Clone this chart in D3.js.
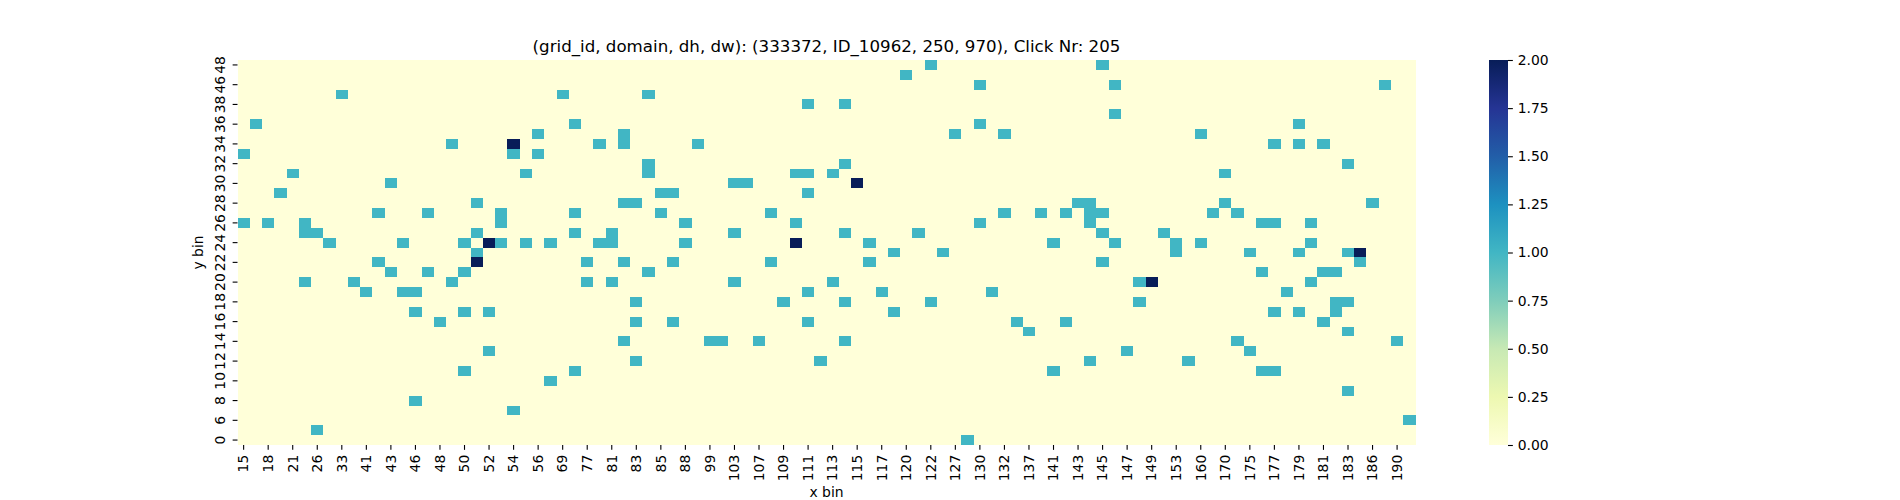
<!DOCTYPE html>
<html>
  <head>
    <title>Click heatmap</title>
    <script src="https://d3js.org/d3.v7.min.js"></script>
    <style>
      body { margin: 0; background: #ffffff; }
      text { font-family: "DejaVu Sans", sans-serif; fill: #000000; }
    </style>
  </head>
  <body>
    <svg id="chart" width="1900" height="500"></svg>
    <script>
      const title = "(grid_id, domain, dh, dw): (333372, ID_10962, 250, 970), Click Nr: 205";

      // x bin categories (left to right), only every 2nd one is labelled
      const xBins = [15, 16, 18, 20, 21, 24, 26, 30, 33, 39, 41, 42, 43, 45, 46, 47, 48, 49, 50, 51,
        52, 53, 54, 55, 56, 60, 69, 74, 77, 79, 81, 82, 83, 84, 85, 86, 88, 95, 99, 101,
        103, 105, 107, 108, 109, 110, 111, 112, 113, 114, 115, 116, 117, 119, 120, 121, 122, 125, 127, 128,
        130, 131, 132, 135, 137, 139, 141, 142, 143, 144, 145, 146, 147, 148, 149, 151, 153, 157, 160, 165,
        170, 172, 175, 176, 177, 178, 179, 180, 181, 182, 183, 185, 186, 188, 190, 192];

      // y bin categories (top to bottom)
      const yBins = [48, 47, 46, 42, 38, 37, 36, 35, 34, 33, 32, 31, 30, 29, 28, 27, 26, 25, 24, 23,
        22, 21, 20, 19, 18, 17, 16, 15, 14, 13, 12, 11, 10, 9, 8, 7, 6, 3, 0];

      // non-zero cells: [x bin, y bin, clicks]
      const cells = [
        [122, 48, 1], [145, 48, 1],
        [120, 47, 1],
        [130, 46, 1], [146, 46, 1], [188, 46, 1],
        [33, 42, 1], [69, 42, 1], [84, 42, 1],
        [111, 38, 1], [114, 38, 1],
        [146, 37, 1],
        [16, 36, 1], [74, 36, 1], [130, 36, 1], [179, 36, 1],
        [56, 35, 1], [82, 35, 1], [127, 35, 1], [132, 35, 1], [160, 35, 1],
        [49, 34, 1], [54, 34, 2], [79, 34, 1], [82, 34, 1], [95, 34, 1], [177, 34, 1], [179, 34, 1], [181, 34, 1],
        [15, 33, 1], [54, 33, 1], [56, 33, 1],
        [84, 32, 1], [114, 32, 1], [183, 32, 1],
        [21, 31, 1], [55, 31, 1], [84, 31, 1], [110, 31, 1], [111, 31, 1], [113, 31, 1], [170, 31, 1],
        [43, 30, 1], [103, 30, 1], [105, 30, 1], [115, 30, 2],
        [20, 29, 1], [85, 29, 1], [86, 29, 1], [111, 29, 1],
        [51, 28, 1], [82, 28, 1], [83, 28, 1], [143, 28, 1], [144, 28, 1], [170, 28, 1], [186, 28, 1],
        [42, 27, 1], [47, 27, 1], [53, 27, 1], [74, 27, 1], [85, 27, 1], [108, 27, 1], [132, 27, 1],
        [139, 27, 1], [142, 27, 1], [144, 27, 1], [145, 27, 1], [165, 27, 1], [172, 27, 1],
        [15, 26, 1], [18, 26, 1], [24, 26, 1], [53, 26, 1], [88, 26, 1], [110, 26, 1], [130, 26, 1],
        [144, 26, 1], [176, 26, 1], [177, 26, 1], [180, 26, 1],
        [24, 25, 1], [26, 25, 1], [51, 25, 1], [74, 25, 1], [81, 25, 1], [103, 25, 1], [114, 25, 1],
        [121, 25, 1], [145, 25, 1], [151, 25, 1],
        [30, 24, 1], [45, 24, 1], [50, 24, 1], [52, 24, 2], [53, 24, 1], [55, 24, 1], [60, 24, 1],
        [79, 24, 1], [81, 24, 1], [88, 24, 1], [110, 24, 2], [116, 24, 1], [141, 24, 1], [146, 24, 1],
        [153, 24, 1], [160, 24, 1], [180, 24, 1],
        [51, 23, 1], [119, 23, 1], [125, 23, 1], [153, 23, 1], [175, 23, 1], [179, 23, 1], [183, 23, 1], [185, 23, 2],
        [42, 22, 1], [51, 22, 2], [77, 22, 1], [82, 22, 1], [86, 22, 1], [108, 22, 1], [116, 22, 1], [145, 22, 1], [185, 22, 1],
        [43, 21, 1], [47, 21, 1], [50, 21, 1], [84, 21, 1], [176, 21, 1], [181, 21, 1], [182, 21, 1],
        [24, 20, 1], [39, 20, 1], [49, 20, 1], [77, 20, 1], [81, 20, 1], [103, 20, 1], [113, 20, 1],
        [148, 20, 1], [149, 20, 2], [180, 20, 1],
        [41, 19, 1], [45, 19, 1], [46, 19, 1], [111, 19, 1], [117, 19, 1], [131, 19, 1], [178, 19, 1],
        [83, 18, 1], [109, 18, 1], [114, 18, 1], [122, 18, 1], [148, 18, 1], [182, 18, 1], [183, 18, 1],
        [46, 17, 1], [50, 17, 1], [52, 17, 1], [119, 17, 1], [177, 17, 1], [179, 17, 1], [182, 17, 1],
        [48, 16, 1], [83, 16, 1], [86, 16, 1], [111, 16, 1], [135, 16, 1], [142, 16, 1], [181, 16, 1],
        [137, 15, 1], [183, 15, 1],
        [82, 14, 1], [99, 14, 1], [101, 14, 1], [107, 14, 1], [114, 14, 1], [172, 14, 1], [190, 14, 1],
        [52, 13, 1], [147, 13, 1], [175, 13, 1],
        [83, 12, 1], [112, 12, 1], [144, 12, 1], [157, 12, 1],
        [50, 11, 1], [74, 11, 1], [141, 11, 1], [176, 11, 1], [177, 11, 1],
        [60, 10, 1],
        [183, 9, 1],
        [46, 8, 1],
        [54, 7, 1],
        [192, 6, 1],
        [26, 3, 1],
        [128, 0, 1]
      ];

      const colorTicks = [0, 0.25, 0.5, 0.75, 1, 1.25, 1.5, 1.75, 2];
      // YlGnBu stops
      const ylgnbu = ["#ffffd9", "#edf8b1", "#c7e9b4", "#7fcdbb", "#41b6c4",
        "#1d91c0", "#225ea8", "#253494", "#081d58"];

      const svg = d3.select("#chart");
      const pLeft = 237.5, pRight = 1415.5, pTop = 60, pBottom = 445;
      const tickLen = 4.86, tickPad = 4.86;

      const x = d3.scaleBand().domain(xBins).range([pLeft, pRight]);
      const y = d3.scaleBand().domain(yBins).range([pTop, pBottom]);
      const color = d3.scaleLinear()
        .domain(ylgnbu.map((c, i) => i * 2 / (ylgnbu.length - 1)))
        .range(ylgnbu)
        .interpolate(d3.interpolateRgb);

      // full grid, zeros where nothing was clicked
      const lookup = new Map(cells.map(c => [c[0] + "_" + c[1], c[2]]));
      const grid = [];
      yBins.forEach(yb => xBins.forEach(xb => {
        grid.push({x: xb, y: yb, v: lookup.get(xb + "_" + yb) || 0});
      }));

      svg.append("g")
        .selectAll("rect")
        .data(grid)
        .join("rect")
        .attr("x", d => x(d.x))
        .attr("y", d => y(d.y))
        .attr("width", x.bandwidth() + 0.3)
        .attr("height", y.bandwidth() + 0.3)
        .attr("fill", d => color(d.v))
        .attr("shape-rendering", "crispEdges");

      // x axis, every other bin labelled, vertical labels
      const xAxis = svg.append("g")
        .attr("transform", `translate(0,${pBottom})`)
        .call(d3.axisBottom(x)
          .tickValues(xBins.filter((d, i) => i % 2 == 0))
          .tickSize(tickLen));
      xAxis.select(".domain").remove();
      xAxis.selectAll("line").attr("stroke-width", 1.1);
      xAxis.selectAll("text")
        .attr("transform", "rotate(-90)")
        .attr("text-anchor", "end")
        .attr("x", -(tickLen + tickPad))
        .attr("y", 4.8)
        .attr("dy", 0)
        .style("font-size", "13.9px")
        .style("font-family", "DejaVu Sans");

      // y axis
      const yAxis = svg.append("g")
        .attr("transform", `translate(${pLeft},0)`)
        .call(d3.axisLeft(y)
          .tickValues(yBins.filter((d, i) => i % 2 == 0))
          .tickSize(tickLen));
      yAxis.select(".domain").remove();
      yAxis.selectAll("line").attr("stroke-width", 1.1);
      yAxis.selectAll("text")
        .attr("transform", "rotate(-90)")
        .attr("text-anchor", "middle")
        .attr("x", 0)
        .attr("y", -13)
        .attr("dy", 0)
        .style("font-size", "13.9px")
        .style("font-family", "DejaVu Sans");

      // axis labels + title
      svg.append("text")
        .attr("x", (pLeft + pRight) / 2)
        .attr("y", 496.5)
        .attr("text-anchor", "middle")
        .style("font-size", "13.9px")
        .text("x bin");
      svg.append("text")
        .attr("transform", `translate(203,${(pTop + pBottom) / 2}) rotate(-90)`)
        .attr("text-anchor", "middle")
        .style("font-size", "13.9px")
        .text("y bin");
      svg.append("text")
        .attr("x", (pLeft + pRight) / 2)
        .attr("y", 51.7)
        .attr("text-anchor", "middle")
        .style("font-size", "16.67px")
        .text(title);

      // colorbar
      const cbX = 1489, cbW = 19;
      const cbScale = d3.scaleLinear().domain([0, 2]).range([pBottom, pTop]);
      const grad = svg.append("defs").append("linearGradient")
        .attr("id", "cbgrad")
        .attr("x1", 0).attr("y1", 1).attr("x2", 0).attr("y2", 0);
      grad.selectAll("stop")
        .data(ylgnbu)
        .join("stop")
        .attr("offset", (d, i) => i / (ylgnbu.length - 1))
        .attr("stop-color", d => d);
      svg.append("rect")
        .attr("x", cbX)
        .attr("y", pTop)
        .attr("width", cbW)
        .attr("height", pBottom - pTop)
        .attr("fill", "url(#cbgrad)");
      const cbAxis = svg.append("g")
        .attr("transform", `translate(${cbX + cbW},0)`)
        .call(d3.axisRight(cbScale)
          .tickValues(colorTicks)
          .tickFormat(d3.format(".2f"))
          .tickSize(tickLen)
          .tickPadding(tickPad));
      cbAxis.select(".domain").remove();
      cbAxis.selectAll("line").attr("stroke-width", 1.1);
      cbAxis.selectAll("text")
        .style("font-size", "13.9px")
        .style("font-family", "DejaVu Sans");
    </script>
  </body>
</html>
